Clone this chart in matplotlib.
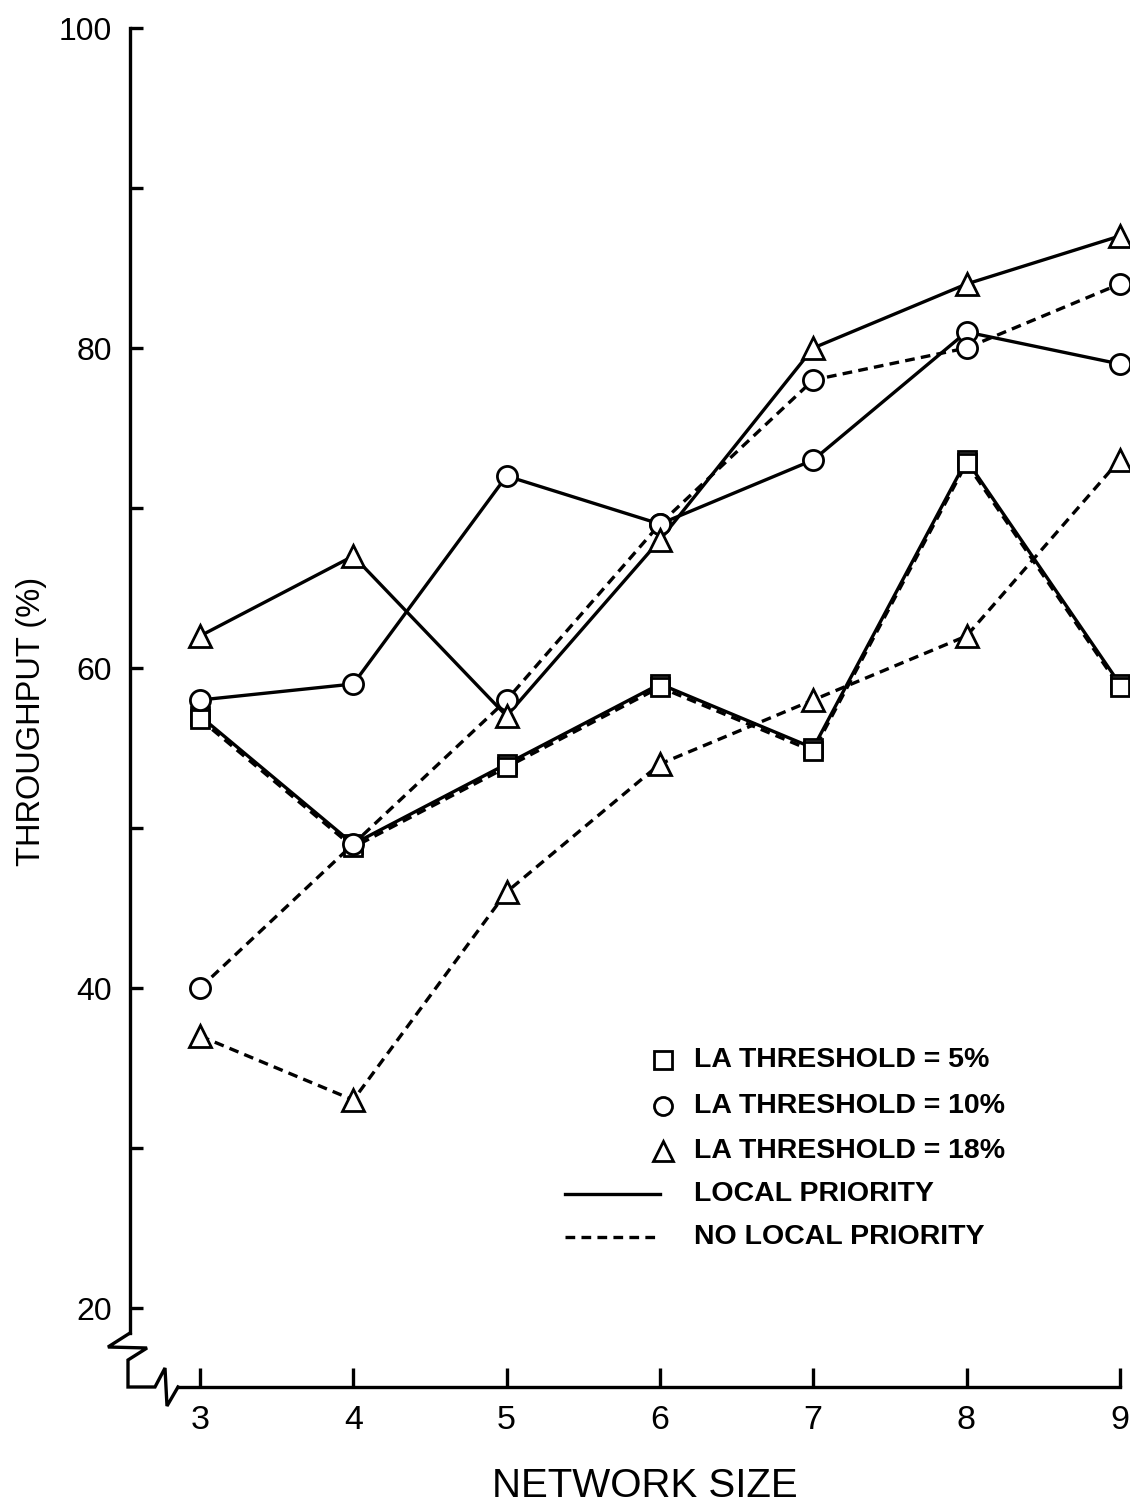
import matplotlib
matplotlib.use("Agg")
import matplotlib.pyplot as plt
from matplotlib import font_manager
from matplotlib.lines import Line2D
from matplotlib.transforms import Affine2D

# ---- data -------------------------------------------------------------
network_size = [3, 4, 5, 6, 7, 8, 9]

# throughput (%) per LA threshold, with / without local priority
la5_local = [57, 49, 54, 59, 55, 73, 59]
la5_nolocal = [56.8, 48.8, 53.8, 58.8, 54.8, 72.8, 58.8]
la10_local = [58, 59, 72, 69, 73, 81, 79]
la10_nolocal = [40, 49, 58, 69, 78, 80, 84]
la18_local = [62, 67, 57, 68, 80, 84, 87]
la18_nolocal = [37, 33, 46, 54, 58, 62, 73]

y_ticks = [20, 30, 40, 50, 60, 70, 80, 90, 100]
y_tick_labels = ["20", "", "40", "", "60", "", "80", "", "100"]
x_tick_labels = ["3", "4", "5", "6", "7", "8", "9"]

legend_labels = ["LA THRESHOLD = 5%", "LA THRESHOLD = 10%",
                 "LA THRESHOLD = 18%", "LOCAL PRIORITY", "NO LOCAL PRIORITY"]

# ---- style ------------------------------------------------------------
plt.rcParams["font.family"] = ["Liberation Sans", "DejaVu Sans"]
plt.rcParams["lines.scale_dashes"] = False

available = {f.name for f in font_manager.fontManager.ttflist}
if "Liberation Sans Narrow" in available:
    label_family = ["Liberation Sans Narrow", "Liberation Sans", "DejaVu Sans"]
    xtick_size, ylabel_size, xlabel_size = 26.5, 27.0, 34.0
else:
    label_family = ["Liberation Sans", "DejaVu Sans"]
    xtick_size, ylabel_size, xlabel_size = 24.5, 23.5, 29.0

LW = 2.4
MEW = 2.0
DASH = (0, (7, 4.5))
W, H = 1130, 1502

fig = plt.figure(figsize=(W / 100, H / 100), dpi=100)
fig.patch.set_facecolor("white")

# pixel-based transform for the axis break and the key
px = Affine2D().scale(1 / W, -1 / H).translate(0, 1) + fig.transFigure

x_scale = 153.3           # pixels per network-size unit
y_scale = 16.0            # pixels per percent
xmin = 3 - (200 - 130) / x_scale
xmax = 9.6
ymax = 100
ymin = ymax - (1387 - 28) / y_scale

ax = fig.add_axes([130 / W, (H - 1387) / H,
                   (xmax - xmin) * x_scale / W, (1387 - 28) / H])
ax.set_xlim(xmin, xmax)
ax.set_ylim(ymin, ymax)
ax.set_facecolor("none")

for side in ("top", "right"):
    ax.spines[side].set_visible(False)
ax.spines["left"].set_linewidth(LW)
ax.spines["bottom"].set_linewidth(LW)
ax.spines["left"].set_bounds(ymax - (1333 - 28) / y_scale, ymax)
ax.spines["bottom"].set_bounds(3 - (200 - 178) / x_scale, 9)

ax.set_yticks(y_ticks)
ax.set_yticklabels(y_tick_labels)
ax.set_xticks(network_size)
ax.set_xticklabels(x_tick_labels)
ax.tick_params(axis="y", direction="in", length=9.5, width=LW, pad=13,
               labelsize=23)
ax.tick_params(axis="x", direction="in", length=14, width=LW, pad=13,
               labelsize=xtick_size)
for lbl in ax.get_xticklabels():
    lbl.set_fontfamily(label_family)

# axis break zig-zags at the origin
fig.add_artist(Line2D([130, 108, 147, 128, 128, 155, 165, 167, 178],
                      [1333, 1347, 1348, 1360, 1387, 1387, 1368, 1406, 1387],
                      transform=px, color="black", lw=LW,
                      solid_joinstyle="miter"))

# ---- series -----------------------------------------------------------
series = [
    (la5_local, "-", "s", 13.5),
    (la5_nolocal, DASH, "s", 13.5),
    (la10_local, "-", "o", 14.5),
    (la10_nolocal, DASH, "o", 14.5),
    (la18_local, "-", "^", 15.5),
    (la18_nolocal, DASH, "^", 15.5),
]
for values, ls, marker, ms in series:
    ax.plot(network_size, values, color="black", lw=LW, linestyle=ls,
            zorder=2, clip_on=False)
for values, ls, marker, ms in series:
    ax.plot(network_size, values, linestyle="none", marker=marker,
            markersize=ms, markerfacecolor="white", markeredgecolor="black",
            markeredgewidth=MEW, zorder=3, clip_on=False)

# ---- axis titles --------------------------------------------------------
fig.text(32 / W, 1 - 721 / H, "THROUGHPUT (%)", rotation=90,
         ha="center", va="center", fontsize=ylabel_size,
         family=label_family)
fig.text(645 / W, 1 - 1486 / H, "NETWORK SIZE", ha="center", va="center",
         fontsize=xlabel_size, family=label_family)

# ---- key ----------------------------------------------------------------
key_rows = [1060, 1106, 1151, 1194, 1237]
for y, marker, ms in zip(key_rows[:3], ["s", "o", "^"], [12.5, 13, 14]):
    fig.add_artist(Line2D([663], [y], transform=px, linestyle="none",
                          marker=marker, markersize=ms,
                          markerfacecolor="white", markeredgecolor="black",
                          markeredgewidth=MEW))
fig.add_artist(Line2D([565, 660], [key_rows[3], key_rows[3]], transform=px,
                      color="black", lw=LW))
fig.add_artist(Line2D([565, 660], [key_rows[4], key_rows[4]], transform=px,
                      color="black", lw=LW, linestyle=DASH))
for y, text in zip(key_rows, legend_labels):
    fig.text(694 / W, 1 - y / H, text, ha="left", va="center",
             fontsize=20.5, fontweight="bold")

fig.savefig("out.png", dpi=100, facecolor="white")
